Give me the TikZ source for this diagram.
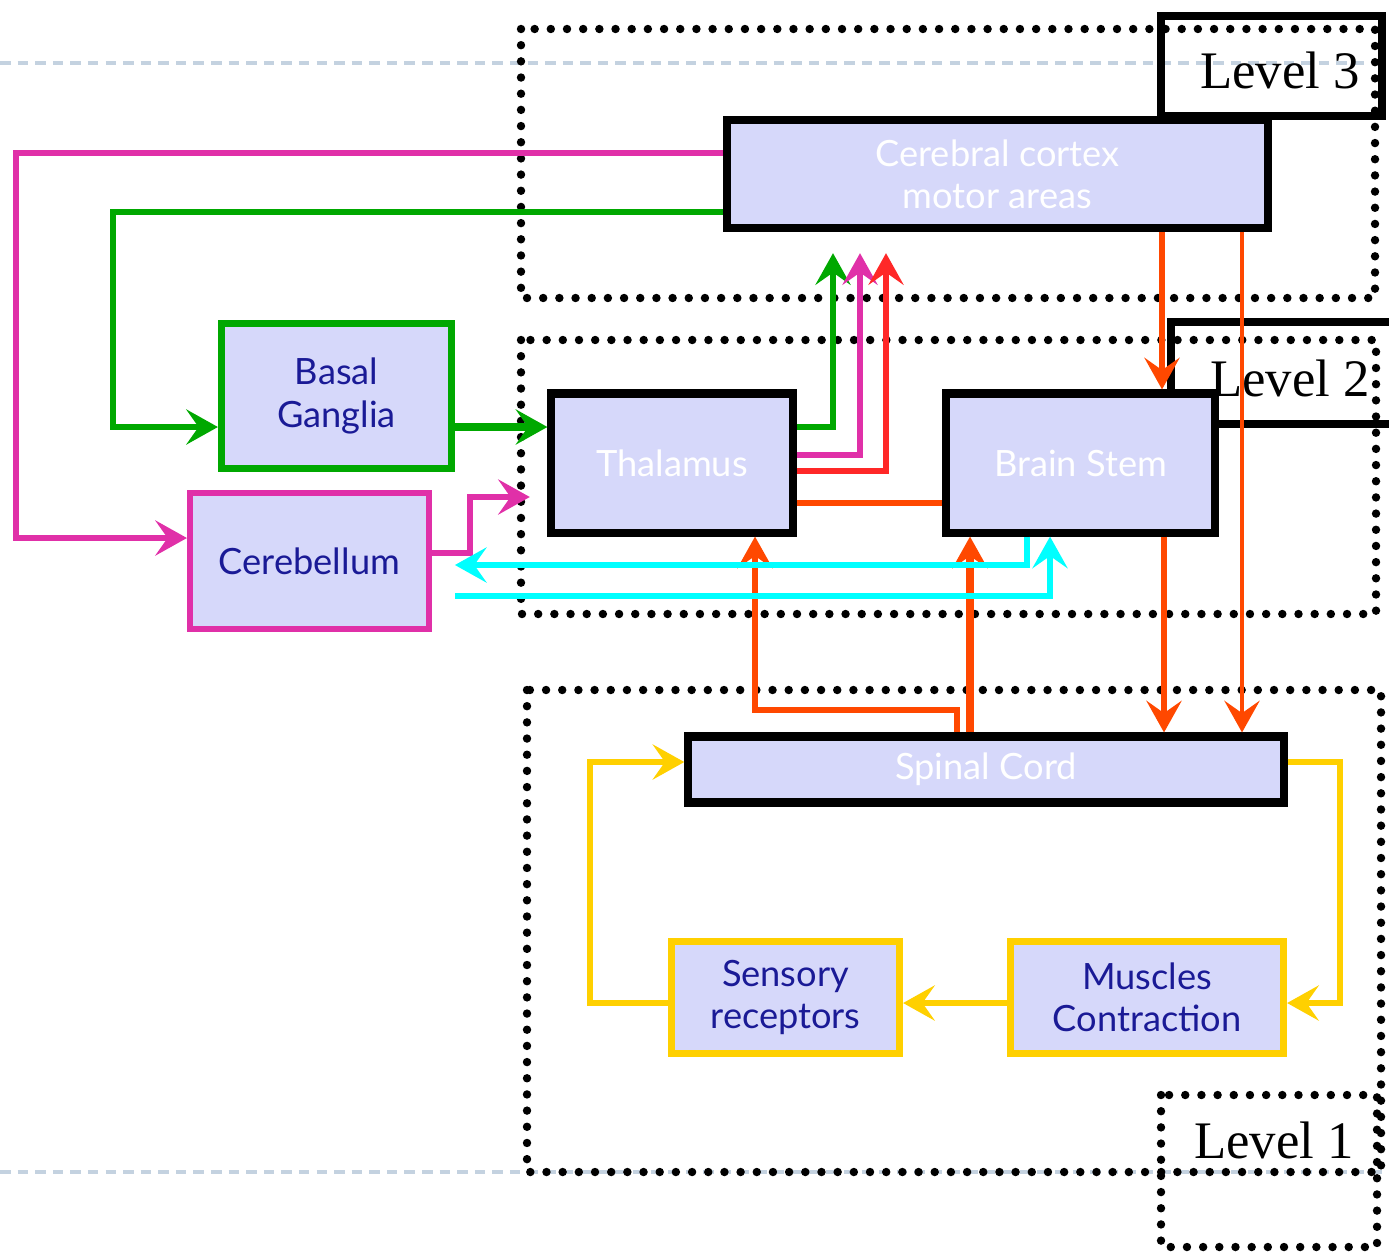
\documentclass[tikz,border=0pt]{standalone}
\usepackage{fontspec}
\usetikzlibrary{arrows.meta}
\newfontfamily\boxfont{Lato}
\newfontfamily\lvlfont{Liberation Serif}
\definecolor{boxfill}{RGB}{214,216,250}
\definecolor{txtblue}{RGB}{26,26,150}
\definecolor{pinkln}{RGB}{224,48,168}
\definecolor{greenln}{RGB}{0,168,0}
\definecolor{redln}{RGB}{255,40,40}
\definecolor{orangeln}{RGB}{255,72,0}
\definecolor{cyanln}{RGB}{0,255,255}
\definecolor{yellowln}{RGB}{255,208,0}
\definecolor{guide}{RGB}{196,210,224}
\begin{document}
\begin{tikzpicture}[x=0.01cm,y=-0.01cm,
  >={Stealth[length=9pt,width=10pt,inset=3.5pt]},
  box/.style={draw,fill=boxfill,line width=2.3pt,inner sep=0pt,align=center,font=\boxfont\fontsize{10.3}{12}\selectfont},
  wbox/.style={box,text=white},
  bbox/.style={box,text=txtblue},
  dotbox/.style={line width=2.4pt,dash pattern=on 0pt off 4.6pt,line cap=round},
  lvlbox/.style={line width=2.3pt},
  lvl/.style={font=\lvlfont\fontsize{15}{18}\selectfont},
  link/.style={line width=1.7pt}]
\useasboundingbox (0,0) rectangle (1389,1251);
\draw[guide,line width=0.9pt,dash pattern=on 3pt off 2pt] (0,63) -- (1389,63);
\draw[guide,line width=0.9pt,dash pattern=on 3pt off 2pt] (0,1172) -- (1389,1172);
\draw[dotbox] (521,29) rectangle (1375,298);
\draw[dotbox] (521,340) rectangle (1376,614);
\draw[dotbox] (527,690) rectangle (1381,1172);
\draw[dotbox] (1161,1095) rectangle (1377,1247);
\draw[lvlbox] (1161,16) rectangle (1382,116);
\draw[lvlbox] (1171,322) rectangle (1420,424);
\node[wbox,minimum width=5.41cm,minimum height=1.08cm] (cortex) at (997.5,174) {Cerebral cortex\\motor areas};
\node[bbox,draw=greenln,line width=2pt,minimum width=2.3cm,minimum height=1.45cm] (basal) at (336.5,396) {Basal\\Ganglia};
\node[bbox,draw=pinkln,line width=1.7pt,minimum width=2.39cm,minimum height=1.36cm] (cereb) at (309.5,561) {Cerebellum};
\node[wbox,minimum width=2.41cm,minimum height=1.39cm] (thal) at (672,463) {Thalamus};
\node[wbox,minimum width=2.68cm,minimum height=1.39cm] (bstem) at (1080.5,463) {Brain Stem};
\node[wbox,minimum width=5.95cm,minimum height=0.66cm] (spinal) at (986,769.5) {Spinal Cord};
\node[bbox,draw=yellowln,line width=2pt,minimum width=2.28cm,minimum height=1.12cm] (sens) at (785.5,997.5) {Sensory\\receptors};
\node[bbox,draw=yellowln,line width=2pt,minimum width=2.73cm,minimum height=1.12cm] (musc) at (1147,997.5) {Muscles\\Contraction};
\coordinate (pk1) at (16,153);
\coordinate (pk2) at (16,538);
\coordinate (gn1) at (113,212);
\coordinate (gn2) at (113,427);
\coordinate (pk3) at (470,553);
\coordinate (pk4) at (470,497);
\coordinate (up1) at (833,427);
\coordinate (up2) at (860,455);
\coordinate (up3) at (886,471);
\coordinate (ob0) at (870,503);
\coordinate (ob1) at (1162,0);
\coordinate (ob2) at (1242,0);
\coordinate (ob3) at (1164,0);
\coordinate (ob4) at (970,0);
\coordinate (ob5) at (957,710);
\coordinate (ob6) at (755,710);
\coordinate (cy1) at (1027,565);
\coordinate (cy2) at (1050,596);
\coordinate (yl1) at (1340,762);
\coordinate (yl2) at (1340,1003);
\coordinate (yl3) at (590,1003);
\coordinate (yl4) at (590,762);
\draw[link,pinkln,->] (cortex.west |- pk1) -- (pk1) -- (pk2) -- (cereb.west |- pk2);
\draw[link,greenln,->] (cortex.west |- gn1) -- (gn1) -- (gn2) -- (basal.west |- gn2);
\draw[greenln,line width=2.4pt,->] (basal.east |- gn2) -- (thal.west |- gn2);
\draw[link,pinkln,->,shorten >=5pt] (cereb.east |- pk3) -- (pk3) -- (pk4) -- (thal.west |- pk4);
\draw[link,greenln,->,shorten >=6pt] (thal.east |- up1) -- (up1) -- (cortex.south -| up1);
\draw[link,pinkln,->,shorten >=6pt] (thal.east |- up2) -- (up2) -- (cortex.south -| up2);
\draw[link,redln,->,shorten >=6pt] (thal.east |- up3) -- (up3) -- (cortex.south -| up3);
\draw[link,orangeln] (thal.east |- ob0) -- (bstem.west |- ob0);
\draw[orangeln,line width=1.9pt,->] (cortex.south -| ob1) -- (bstem.north -| ob1);
\draw[orangeln,line width=1.3pt,->] (cortex.south -| ob2) -- (spinal.north -| ob2);
\draw[link,orangeln,->] (bstem.south -| ob3) -- (spinal.north -| ob3);
\draw[orangeln,line width=2.5pt,->] (spinal.north -| ob4) -- (bstem.south -| ob4);
\draw[link,orangeln,->] (spinal.north -| ob5) -- (ob5) -- (ob6) -- (thal.south -| ob6);
\draw[link,cyanln,->,shorten >=6.5pt] (bstem.south -| cy1) -- (cy1) -- (cereb.east |- cy1);
\draw[link,cyanln,->,shorten <=6.5pt] (cereb.east |- cy2) -- (cy2) -- (bstem.south -| cy2);
\draw[link,yellowln,->] (spinal.east |- yl1) -- (yl1) -- (yl2) -- (musc.east |- yl2);
\draw[link,yellowln,->] (musc.west |- yl2) -- (sens.east |- yl2);
\draw[link,yellowln,->] (sens.west |- yl3) -- (yl3) -- (yl4) -- (spinal.west |- yl4);
\node[lvl] (l3) at (1280,70) {Level 3};
\node[lvl] (l2) at (1290,378) {Level 2};
\node[lvl] (l1) at (1274,1140) {Level 1};
\end{tikzpicture}
\end{document}
